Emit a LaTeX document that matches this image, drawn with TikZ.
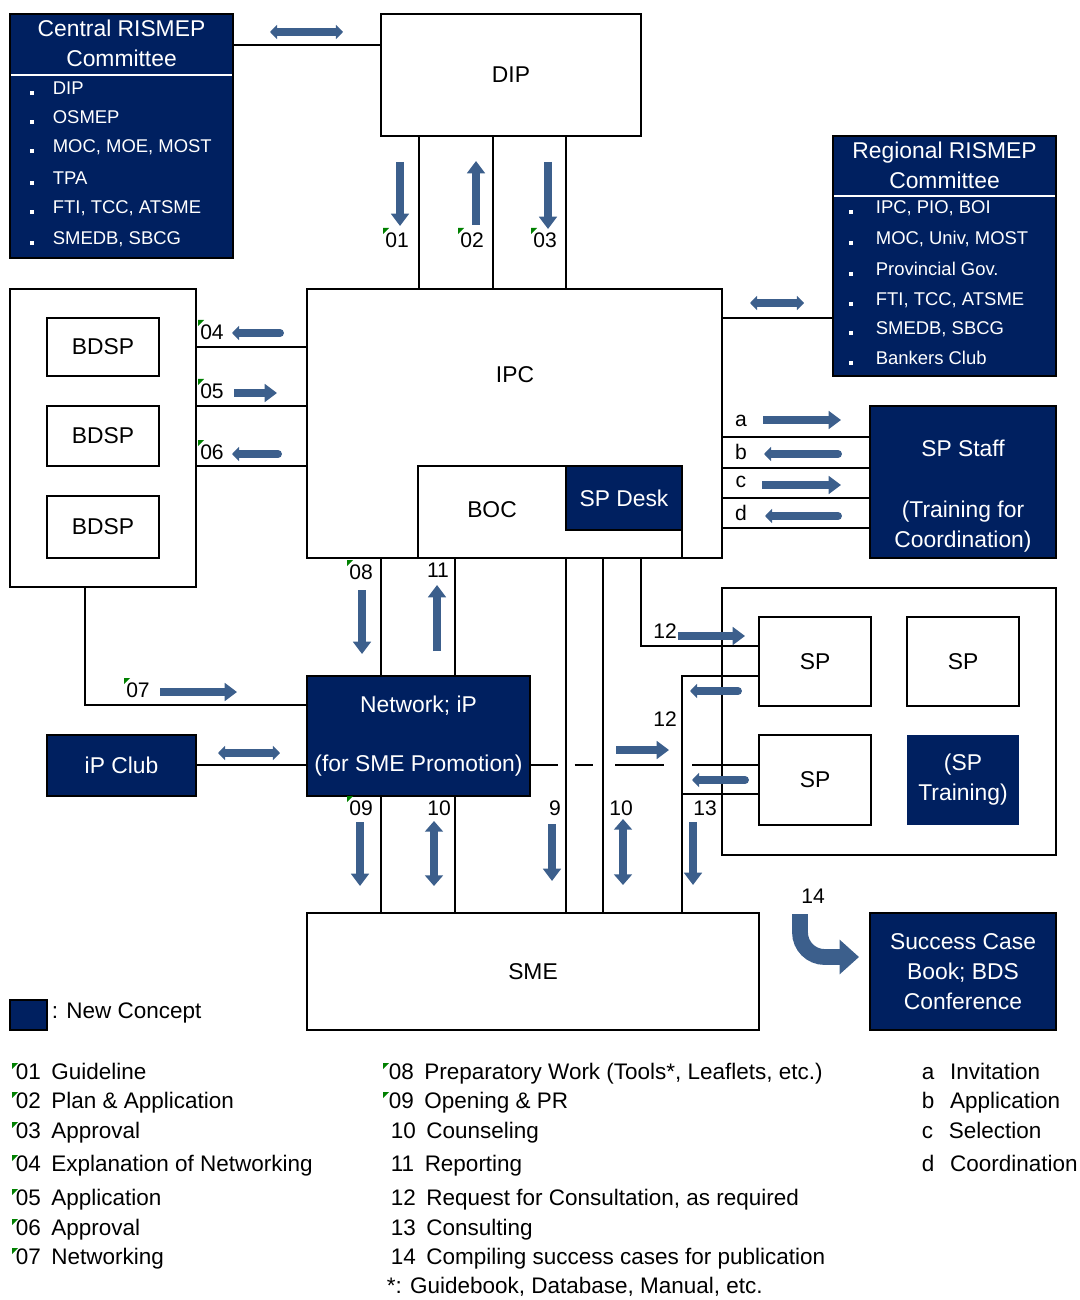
\documentclass[tikz,border=0pt]{standalone}
\usepackage{fontspec}
\setmainfont{Liberation Sans}
\usetikzlibrary{arrows.meta}

\definecolor{navy}{RGB}{0,32,96}
\definecolor{flowblue}{RGB}{60,95,140}
\definecolor{tickgreen}{RGB}{0,128,0}

% small green corner mark in front of a number
\newcommand{\tick}[2]{\fill[tickgreen] (#1,#2) -- ++(6,0) -- ++(-6,6) -- cycle;}
% square bullet of the committee lists
\newcommand{\dotmark}[1]{\llap{\rule{2.3pt}{2.3pt}\hspace{#1}}}

\begin{document}
\begin{tikzpicture}[x=0.02cm, y=-0.02cm, line width=1pt,
    box/.style={draw, rectangle, line width=1.1pt, inner sep=0pt},
    navybox/.style={box, fill=navy, text=white},
    boxtext/.style={font=\fontsize{13}{17}\selectfont, align=center},
    num/.style={font=\fontsize{12}{14}\selectfont, inner sep=0pt},
    entry/.style={font=\fontsize{10.5}{12}\selectfont, text=white, anchor=west, inner sep=0pt, text height=1.6ex, text depth=.4ex},
    keytext/.style={font=\fontsize{12.8}{15}\selectfont, anchor=west, inner sep=0pt, text height=1.6ex, text depth=.4ex},
    flow/.style={draw=flowblue, line width=4.5pt, -{Triangle[length=7pt,width=10pt]}},
    back/.style={draw=flowblue, line width=4.5pt, line cap=round, -{Triangle[length=4pt,width=8pt]}},
    updown/.style={draw=flowblue, line width=4.5pt, {Triangle[length=6pt,width=10pt]}-{Triangle[length=6pt,width=10pt]}},
    twoway/.style={draw=flowblue, line width=4pt, {Triangle[length=4pt,width=8pt]}-{Triangle[length=4pt,width=8pt]}}
  ]
  \useasboundingbox (0,0) rectangle (1079,1300);

  % committees
  \node[navybox, minimum width=4.46cm, minimum height=4.88cm] (central) at (121.5,136) {};
  \node[boxtext, text=white] (centralhead) at (121.5,43) {Central RISMEP\\Committee};
  \draw[white, line width=1.5pt, shorten <=1pt, shorten >=1pt] (central.west |- 0,75) -- (central.east |- 0,75);
  \node[entry] (c1) at (52,89)  {\dotmark{11pt}DIP};
  \node[entry] (c2) at (52,118) {\dotmark{11pt}OSMEP};
  \node[entry] (c3) at (52,147) {\dotmark{11pt}MOC, MOE, MOST};
  \node[entry] (c4) at (52,179) {\dotmark{11pt}TPA};
  \node[entry] (c5) at (52,208) {\dotmark{11pt}FTI, TCC, ATSME};
  \node[entry] (c6) at (52,239) {\dotmark{11pt}SMEDB, SBCG};

  \node[navybox, minimum width=4.46cm, minimum height=4.8cm] (regional) at (944.5,256) {};
  \node[boxtext, text=white] (regionalhead) at (944.5,165) {Regional RISMEP\\Committee};
  \draw[white, line width=1.5pt, shorten <=1pt, shorten >=1pt] (regional.west |- 0,196) -- (regional.east |- 0,196);
  \node[entry] (r1) at (875,208) {\dotmark{13pt}IPC, PIO, BOI};
  \node[entry] (r2) at (875,239) {\dotmark{13pt}MOC, Univ, MOST};
  \node[entry] (r3) at (875,270) {\dotmark{13pt}Provincial Gov.};
  \node[entry] (r4) at (875,300) {\dotmark{13pt}FTI, TCC, ATSME};
  \node[entry] (r5) at (875,329) {\dotmark{13pt}SMEDB, SBCG};
  \node[entry] (r6) at (875,359) {\dotmark{13pt}Bankers Club};

  % main boxes
  \node[box, boxtext, minimum width=5.2cm, minimum height=2.44cm] (dip) at (511,75) {DIP};
  \node[box, minimum width=8.3cm, minimum height=5.38cm] (ipc) at (514.5,423.5) {};
  \node[boxtext] (ipclabel) at (515,375) {IPC};
  \node[box, minimum width=5.28cm, minimum height=1.84cm] (boc) at (550,512) {};
  \node[boxtext] (boclabel) at (492,510) {BOC};
  \node[navybox, boxtext, minimum width=2.32cm, minimum height=1.28cm] (spdesk) at (624,498) {SP Desk};

  \node[box, minimum width=3.72cm, minimum height=5.96cm] (bdspgroup) at (103,438) {};
  \node[box, boxtext, minimum width=2.24cm, minimum height=1.16cm] (bdsp1) at (103,347) {BDSP};
  \node[box, boxtext, minimum width=2.24cm, minimum height=1.2cm] (bdsp2) at (103,436) {BDSP};
  \node[box, boxtext, minimum width=2.24cm, minimum height=1.24cm] (bdsp3) at (103,527) {BDSP};

  \node[navybox, minimum width=3.72cm, minimum height=3.04cm] (spstaff) at (963,482) {};
  \node[boxtext, text=white] (spstafflabel) at (963,496) {SP Staff\\[18pt](Training for\\Coordination)};

  \node[navybox, boxtext, minimum width=4.46cm, minimum height=2.4cm] (network) at (418.5,736) {Network; iP\\[16.5pt](for SME Promotion)};
  \node[navybox, boxtext, minimum width=2.98cm, minimum height=1.22cm] (ipclub) at (121.5,765.5) {iP Club};

  \node[box, minimum width=6.68cm, minimum height=5.34cm] (spgroup) at (889,721.5) {};
  \node[box, boxtext, minimum width=2.24cm, minimum height=1.78cm] (sp1) at (815,661.5) {SP};
  \node[box, boxtext, minimum width=2.24cm, minimum height=1.78cm] (sp2) at (963,661.5) {SP};
  \node[box, boxtext, minimum width=2.24cm, minimum height=1.8cm] (sp3) at (815,780) {SP};
  \node[fill=navy, text=white, boxtext, inner sep=0pt, minimum width=2.24cm, minimum height=1.8cm] (sptrain) at (963,780) {(SP\\Training)};

  \node[box, boxtext, minimum width=9.04cm, minimum height=2.34cm] (sme) at (533,971.5) {SME};
  \node[navybox, boxtext, minimum width=3.72cm, minimum height=2.34cm] (success) at (963,971.5) {Success Case\\Book; BDS\\Conference};

  % connectors
  \draw (central.east |- 0,45) -- (dip.west |- 0,45);
  \draw (dip.south -| 419,0) -- (ipc.north -| 419,0);
  \draw (dip.south -| 493,0) -- (ipc.north -| 493,0);
  \draw (dip.south -| 566,0) -- (ipc.north -| 566,0);
  \draw (bdspgroup.east |- 0,347) -- (ipc.west |- 0,347);
  \draw (bdspgroup.east |- 0,406) -- (ipc.west |- 0,406);
  \draw (bdspgroup.east |- 0,466) -- (ipc.west |- 0,466);
  \draw (ipc.east |- 0,318) -- (regional.west |- 0,318);
  \draw (ipc.east |- 0,437) -- (spstaff.west |- 0,437);
  \draw (ipc.east |- 0,468) -- (spstaff.west |- 0,468);
  \draw (ipc.east |- 0,498) -- (spstaff.west |- 0,498);
  \draw (ipc.east |- 0,528) -- (spstaff.west |- 0,528);
  \draw (ipc.south -| 381,0) -- (network.north -| 381,0);
  \draw (ipc.south -| 455,0) -- (network.north -| 455,0);
  \draw (ipc.south -| 566,0) -- (sme.north -| 566,0);
  \draw (ipc.south -| 603,0) -- (sme.north -| 603,0);
  \draw (ipc.south -| 641,0) |- (sp1.west |- 0,646);
  \draw (sp1.west |- 0,676) -| (sme.north -| 682,0);
  \coordinate (tap) at (682,794);
  \draw (sp3.west |- 0,794) -- (tap);
  \draw[dash pattern=on 15.3pt off 9.6pt on 10.2pt off 13pt on 27.8pt off 15.9pt on 40pt]
    (network.east |- 0,765) -- (sp3.west |- 0,765);
  \draw (bdspgroup.south -| 85,0) |- (network.west |- 0,705);
  \draw (ipclub.east |- 0,765) -- (network.west |- 0,765);
  \draw (network.south -| 381,0) -- (sme.north -| 381,0);
  \draw (network.south -| 455,0) -- (sme.north -| 455,0);

  % flow arrows
  \draw[twoway] (270,32) -- (343,32);
  \draw[twoway] (750,303) -- (804,303);
  \draw[twoway] (218,753) -- (280,753);
  \draw[flow] (400,162) -- (400,226);
  \draw[flow] (476,225) -- (476,161);
  \draw[flow] (548,162) -- (548,229);
  \draw[back] (280,333) -- (232,333);
  \draw[flow] (234,393) -- (277,393);
  \draw[back] (278,454) -- (232,454);
  \draw[flow] (763,420) -- (841,420);
  \draw[back] (838,454) -- (764,454);
  \draw[flow] (762,485) -- (841,485);
  \draw[back] (838,516) -- (765,516);
  \draw[flow] (362,590) -- (362,654);
  \draw[flow] (437,651) -- (437,585);
  \draw[flow] (678,636) -- (745,636);
  \draw[flow] (616,750) -- (669,750);
  \draw[back] (738,691) -- (690,691);
  \draw[back] (745,780) -- (692,780);
  \draw[flow] (160,692) -- (237,692);
  \draw[flow] (360,822) -- (360,886);
  \draw[updown] (434,821) -- (434,886);
  \draw[flow] (552,824) -- (552,881);
  \draw[updown] (623,819) -- (623,885);
  \draw[flow] (693,822) -- (693,885);
  \draw[flowblue, line width=9pt, rounded corners=14pt, -{Triangle[length=11pt,width=19pt]}] (800,914) |- (859,957);

  % arrow numbers
  \node[num] (n01) at (397,240) {01};
  \node[num] (n02) at (472,240) {02};
  \node[num] (n03) at (545,240) {03};
  \node[num] (n04) at (212,332) {04};
  \node[num] (n05) at (212,391) {05};
  \node[num] (n06) at (212,452) {06};
  \node[num] (n07) at (138,690) {07};
  \node[num] (n08) at (361,572) {08};
  \node[num] (n11) at (438,570) {11};
  \node[num] (n09) at (361,808) {09};
  \node[num] (n10a) at (439,808) {10};
  \node[num] (n9) at (555,808) {9};
  \node[num] (n10b) at (621,808) {10};
  \node[num] (n12a) at (665,631) {12};
  \node[num] (n12b) at (665,719) {12};
  \node[num] (n13) at (705,808) {13};
  \node[num] (n14) at (813,896) {14};
  \node[num] (la) at (741,421) {a};
  \node[num] (lb) at (741,452) {b};
  \node[num] (lc) at (741,482) {c};
  \node[num] (ld) at (741,513) {d};
  \tick{383}{228} \tick{458}{228} \tick{531}{228}
  \tick{198}{320} \tick{198}{379} \tick{198}{440}
  \tick{124}{678} \tick{347}{560} \tick{347}{796}

  % legend
  \node[navybox, minimum width=0.74cm, minimum height=0.6cm] (newkey) at (28.5,1015) {};
  \node[keytext] (newtext) at (51,1013) {: New Concept};

  \node[keytext] (k01) at (15,1074) {01\hspace{6pt}Guideline};
  \node[keytext] (k02) at (15,1103) {02\hspace{6pt}Plan \& Application};
  \node[keytext] (k03) at (15,1133) {03\hspace{6pt}Approval};
  \node[keytext] (k04) at (15,1166) {04\hspace{6pt}Explanation of Networking};
  \node[keytext] (k05) at (15,1200) {05\hspace{6pt}Application};
  \node[keytext] (k06) at (15,1230) {06\hspace{6pt}Approval};
  \node[keytext] (k07) at (15,1259) {07\hspace{6pt}Networking};
  \tick{12}{1063} \tick{12}{1092} \tick{12}{1122} \tick{12}{1155}
  \tick{12}{1189} \tick{12}{1219} \tick{12}{1248}

  \node[keytext] (k08) at (388,1074) {08\hspace{6pt}Preparatory Work (Tools*, Leaflets, etc.)};
  \node[keytext] (k09) at (388,1103) {09\hspace{6pt}Opening \& PR};
  \node[keytext] (k10) at (390,1133) {10\hspace{6pt}Counseling};
  \node[keytext] (k11) at (390,1166) {11\hspace{6pt}Reporting};
  \node[keytext] (k12) at (390,1200) {12\hspace{6pt}Request for Consultation, as required};
  \node[keytext] (k13) at (390,1230) {13\hspace{6pt}Consulting};
  \node[keytext] (k14) at (390,1259) {14\hspace{6pt}Compiling success cases for publication};
  \node[keytext] (kstar) at (386,1288) {*: Guidebook, Database, Manual, etc.};
  \tick{383}{1063} \tick{383}{1092}

  \node[keytext] (ka) at (921,1074) {a\hspace{9pt}Invitation};
  \node[keytext] (kb) at (921,1103) {b\hspace{9pt}Application};
  \node[keytext] (kc) at (921,1133) {c\hspace{9pt}Selection};
  \node[keytext] (kd) at (921,1166) {d\hspace{9pt}Coordination};
\end{tikzpicture}
\end{document}
